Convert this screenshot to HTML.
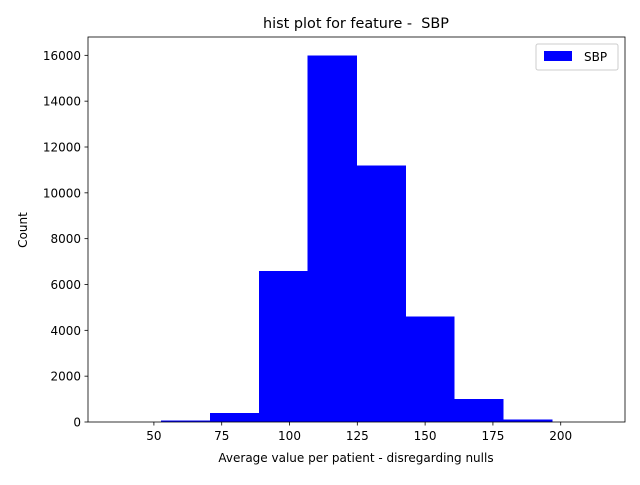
<!DOCTYPE html>
<html><head><meta charset="utf-8"><style>
body{margin:0;background:#fff;}
svg text{font-family:"DejaVu Sans","Liberation Sans",sans-serif;fill:#000;white-space:pre;}
</style></head><body>
<svg id="chart" width="640" height="480">
<rect width="640" height="480" fill="#fff"/>
<text x="356" y="28" font-size="14.4" text-anchor="middle" xml:space="preserve">hist plot for feature -  SBP</text>
<g id="bars" shape-rendering="crispEdges"></g>
<g id="axes"></g>
<text x="356" y="462" font-size="12" text-anchor="middle">Average value per patient - disregarding nulls</text>
<text x="0" y="0" font-size="12" text-anchor="middle" transform="translate(27,230) rotate(-90)">Count</text>
<g>
<rect x="536" y="44" width="82" height="26" rx="2" fill="#fff" stroke="#ccc"/>
<rect x="544" y="51" width="28" height="10" fill="#0000ff"/>
<text x="584" y="61" font-size="12">SBP</text>
</g>
</svg>
<script>
const binStart = 34.7;
const binWidth = 18;
const counts = [0, 60, 400, 6600, 16000, 11200, 4600, 1000, 100, 5];
const xTicks = [50, 75, 100, 125, 150, 175, 200];
const yTicks = [0, 2000, 4000, 6000, 8000, 10000, 12000, 14000, 16000];

const L=88, R=625, T=37, B=422;
const xMin = binStart - 0.05*binWidth*counts.length;
const xMax = binStart + 1.05*binWidth*counts.length;
const yMax = Math.max(...counts)*1.05;
const sx = v => L + (v - xMin)/(xMax - xMin)*(R-L);
const sy = v => B - v/yMax*(B-T);
const NS="http://www.w3.org/2000/svg";
const bars=document.getElementById('bars'), axes=document.getElementById('axes');
counts.forEach((c,i)=>{
  const r=document.createElementNS(NS,'rect');
  const x0=sx(binStart+i*binWidth), x1=sx(binStart+(i+1)*binWidth);
  r.setAttribute('x',x0);r.setAttribute('width',x1-x0+0.5);
  r.setAttribute('y',sy(c));r.setAttribute('height',B-sy(c));
  r.setAttribute('fill','#0000ff');
  
  
  bars.appendChild(r);
});
const frame=document.createElementNS(NS,'rect');
frame.setAttribute('x',L);frame.setAttribute('y',T);frame.setAttribute('width',R-L);frame.setAttribute('height',B-T);
frame.setAttribute('fill','none');frame.setAttribute('stroke','#000');frame.setAttribute('stroke-width','0.8');


axes.appendChild(frame);
xTicks.forEach(v=>{
  const x=sx(v);
  const l=document.createElementNS(NS,'line');
  l.setAttribute('x1',x);l.setAttribute('x2',x);l.setAttribute('y1',B);l.setAttribute('y2',B+3.5);l.setAttribute('stroke','#000');l.setAttribute('stroke-width','0.8');
  
  
  axes.appendChild(l);
  const t=document.createElementNS(NS,'text');
  t.setAttribute('x',x);t.setAttribute('y',B+18);t.setAttribute('font-size','12');t.setAttribute('text-anchor','middle');
  t.textContent=v;
  
  
  axes.appendChild(t);
});
yTicks.forEach(v=>{
  const y=sy(v);
  const l=document.createElementNS(NS,'line');
  l.setAttribute('x1',L-3.5);l.setAttribute('x2',L);l.setAttribute('y1',y);l.setAttribute('y2',y);l.setAttribute('stroke','#000');l.setAttribute('stroke-width','0.8');
  
  
  axes.appendChild(l);
  const t=document.createElementNS(NS,'text');
  t.setAttribute('x',L-7);t.setAttribute('y',y+4.5);t.setAttribute('font-size','12');t.setAttribute('text-anchor','end');
  t.textContent=v;
  
  
  axes.appendChild(t);
});
</script>
</body></html>
